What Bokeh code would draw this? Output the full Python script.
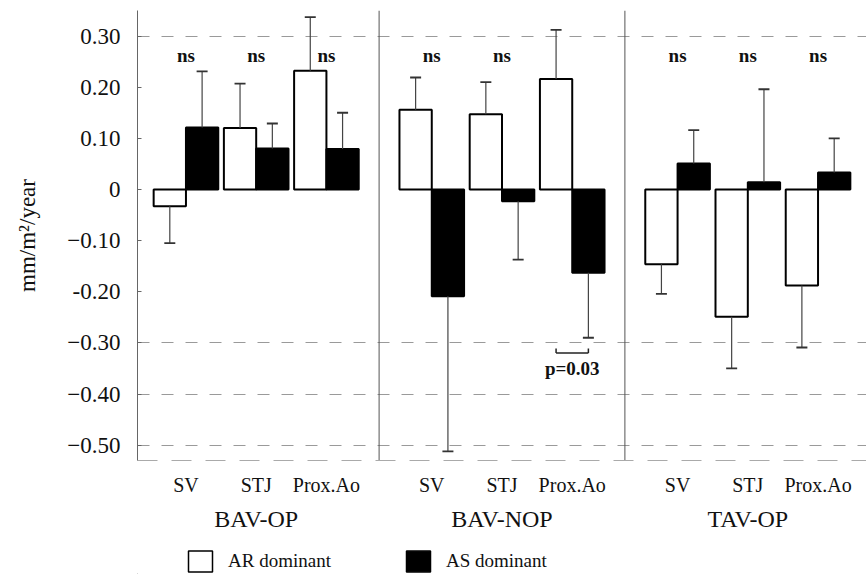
from bokeh.plotting import figure
from bokeh.layouts import column
from bokeh.models import (ColumnDataSource, FactorRange, FixedTicker, Legend,
                          LegendItem)
from bokeh.transform import dodge
from bokeh.core.properties import value
from bokeh.embed import file_html
from bokeh.resources import INLINE

# ---------------- data ----------------
groups = ["BAV-OP", "BAV-NOP", "TAV-OP"]
sites = ["SV", "STJ", "Prox.Ao"]

ar_mean = [-0.033, 0.120, 0.232, 0.156, 0.147, 0.216, -0.146, -0.249, -0.188]
ar_sd = [0.072, 0.087, 0.105, 0.063, 0.063, 0.096, 0.058, 0.101, 0.121]
as_mean = [0.121, 0.080, 0.079, -0.209, -0.023, -0.163, 0.051, 0.014, 0.033]
as_sd = [0.110, 0.049, 0.071, 0.303, 0.114, 0.127, 0.065, 0.182, 0.067]
sig_labels = ["ns", "ns", "ns", "ns", "ns", "", "ns", "ns", "ns"]
p_label = "p=0.03"
p_group = ("BAV-NOP", "Prox.Ao")

y_ticks = [0.30, 0.20, 0.10, 0.0, -0.10, -0.20, -0.30, -0.40, -0.50]
y_tick_labels = ["0.30", "0.20", "0.10", "0", "\u22120.10", "-0.20",
                 "\u22120.30", "\u22120.40", "\u22120.50"]
grid_ticks = [0.30, -0.30, -0.40, -0.50]
series_names = ["AR dominant", "AS dominant"]
series_fill = ["white", "black"]

# ---------------- derived ----------------
factors = [(g, s) for g in groups for s in sites]


def ends(means, sds):
    return [m + (sd if m >= 0 else -sd) for m, sd in zip(means, sds)]


src = ColumnDataSource(dict(
    x=factors, ar=ar_mean, ar_end=ends(ar_mean, ar_sd),
    as_=as_mean, as_end=ends(as_mean, as_sd), sig=sig_labels))

SERIF = "Liberation Serif"
Y0, Y1 = -0.53, 0.35

p = figure(width=866, height=540,
           x_range=FactorRange(*factors, group_padding=0.5, factor_padding=0.0,
                               range_padding=0.19, range_padding_units="absolute"),
           y_range=(Y0, Y1), output_backend="svg", toolbar_location=None,
           min_border_left=137, min_border_right=0, min_border_top=10,
           min_border_bottom=80)
p.outline_line_color = None
p.background_fill_color = "white"

# grid
p.xgrid.visible = False
p.ygrid.ticker = FixedTicker(ticks=grid_ticks)
p.ygrid.grid_line_color = "#9a9a9a"
p.ygrid.grid_line_dash = "12 12"
p.ygrid.grid_line_width = 1

# y axis
p.yaxis.ticker = FixedTicker(ticks=y_ticks)
p.yaxis.major_label_overrides = {t: l for t, l in zip(y_ticks, y_tick_labels)}
p.yaxis.major_label_text_font = SERIF
p.yaxis.major_label_text_font_size = "23px"
p.yaxis.major_label_text_color = "#111"
p.yaxis.major_label_standoff = 17
p.yaxis.major_tick_in = 4
p.yaxis.major_tick_out = 0
p.yaxis.minor_tick_line_color = None
p.yaxis.axis_line_color = "#666"
p.yaxis.major_tick_line_color = "#666"
p.yaxis.axis_label = "mm/m\u00b2/year"
p.yaxis.axis_label_text_font = SERIF
p.yaxis.axis_label_text_font_size = "23px"
p.yaxis.axis_label_text_font_style = "normal"
p.yaxis.axis_label_text_color = "#111"
p.yaxis.axis_label_standoff = 24

# x axis
xa = p.xaxis[0]
xa.major_label_text_font = SERIF
xa.major_label_text_font_size = "20px"
xa.major_label_text_color = "#111"
xa.major_label_standoff = 7
xa.group_text_font = SERIF
xa.group_text_font_size = "24px"
xa.group_text_font_style = "normal"
xa.group_text_color = "#111"
xa.separator_line_color = None
xa.major_tick_line_color = None
xa.minor_tick_line_color = None
xa.axis_line_color = "#aaaaaa"
xa.axis_line_dash = "20 14"

# panel dividers
div_src = ColumnDataSource(dict(x=[(groups[0], sites[-1]), (groups[1], sites[-1])]))
p.segment(x0=dodge("x", 0.75, range=p.x_range), y0=Y0,
          x1=dodge("x", 0.75, range=p.x_range), y1=Y1,
          source=div_src, line_color="#555", line_width=1)

# bars
BW = 0.46
OFF = 0.23
p.vbar(x=dodge("x", -OFF, range=p.x_range), top="ar", bottom=0, width=BW,
       source=src, fill_color=series_fill[0], line_color="black", line_width=2)
p.vbar(x=dodge("x", OFF, range=p.x_range), top="as_", bottom=0, width=BW,
       source=src, fill_color=series_fill[1], line_color="black", line_width=2)

# error bars
for off, m, e in [(-OFF, "ar", "ar_end"), (OFF, "as_", "as_end")]:
    p.segment(x0=dodge("x", off, range=p.x_range), y0=m,
              x1=dodge("x", off, range=p.x_range), y1=e,
              source=src, line_color="#444", line_width=1.2)
    p.dash(x=dodge("x", off, range=p.x_range), y=e, size=11, angle=0,
           source=src, line_color="#333", line_width=1.8)

# significance labels
p.text(x="x", y=0.262, text="sig", source=src, text_font=value(SERIF),
       text_font_style="bold", text_font_size="19px", text_align="center",
       text_baseline="middle", text_color="#111")

# p-value bracket
pv = ColumnDataSource(dict(x=[p_group], t=[p_label]))
p.segment(x0=dodge("x", -OFF, range=p.x_range), y0=-0.32,
          x1=dodge("x", OFF, range=p.x_range), y1=-0.32,
          source=pv, line_color="#222", line_width=1.5)
for off in (-OFF, OFF):
    p.segment(x0=dodge("x", off, range=p.x_range), y0=-0.32,
              x1=dodge("x", off, range=p.x_range), y1=-0.311,
              source=pv, line_color="#222", line_width=1.5)
p.text(x="x", y=-0.35, text="t", source=pv, text_font=value(SERIF),
       text_font_style="bold", text_font_size="19px", text_align="center",
       text_baseline="middle", text_color="#111")

# legend strip: a small figure under the chart holding only the key
lg = figure(width=866, height=34, output_backend="svg", toolbar_location=None,
            min_border=0, x_axis_type=None, y_axis_type=None,
            x_range=(0, 1), y_range=(10, 11))
lg.grid.visible = False
lg.outline_line_color = None
keys = []
for fill in series_fill:
    # key swatches sit far outside the visible range; only the legend shows them
    keys.append(lg.vbar(x=[-50], top=[-40], bottom=[-41], width=0.1,
                        fill_color=fill, line_color="black", line_width=1.5))
legend = Legend(items=[LegendItem(label=n, renderers=[k])
                       for n, k in zip(series_names, keys)],
                orientation="horizontal", location=(48, 0),
                label_text_font=SERIF, label_text_font_size="19px",
                label_text_color="#111", glyph_width=30, glyph_height=26,
                label_height=26, spacing=72, label_standoff=13, padding=0,
                margin=0, border_line_color=None, background_fill_alpha=0)
lg.add_layout(legend, "center")

open("out.html", "w").write(file_html(column(p, lg), INLINE))
